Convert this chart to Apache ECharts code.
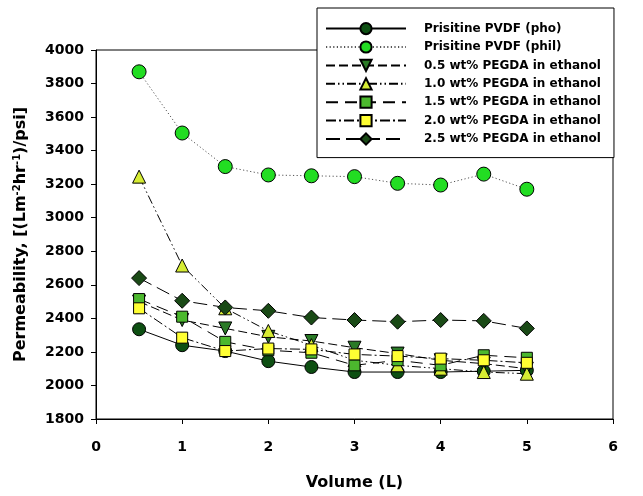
<!DOCTYPE html>
<html>
<head>
<meta charset="utf-8">
<script src="https://cdn.jsdelivr.net/npm/echarts@6/dist/echarts.min.js"></script>
<style>html,body{margin:0;padding:0;background:#fff}#c{width:643px;height:496px}</style>
</head>
<body>
<div id="c"></div>
<script>
const volume = [0.5, 1, 1.5, 2, 2.5, 3, 3.5, 4, 4.5, 5];
const seriesNames = ['Prisitine PVDF (pho)', 'Prisitine PVDF (phil)', '0.5 wt% PEGDA in ethanol', '1.0 wt% PEGDA in ethanol', '1.5 wt% PEGDA in ethanol', '2.0 wt% PEGDA in ethanol', '2.5 wt% PEGDA in ethanol'];
const pvdfPho  = [2335, 2240, 2205, 2145, 2110, 2080, 2080, 2080, 2085, 2090];
const pvdfPhil = [3870, 3505, 3305, 3255, 3250, 3245, 3205, 3195, 3260, 3170];
const pegda05  = [2500, 2390, 2340, 2290, 2265, 2225, 2190, 2150, 2130, 2100];
const pegda10  = [3245, 2715, 2460, 2325, 2240, 2150, 2120, 2100, 2080, 2070];
const pegda15  = [2515, 2410, 2260, 2210, 2195, 2120, 2150, 2120, 2180, 2165];
const pegda20  = [2460, 2285, 2205, 2220, 2215, 2185, 2175, 2160, 2150, 2135];
const pegda25  = [2640, 2505, 2465, 2445, 2405, 2390, 2380, 2390, 2385, 2340];
const yTicks = [1800, 4000, 200];
const xTicks = [0, 6, 1];

const FONT = 'DejaVu Sans';
function pairs(v) { return volume.map((x, i) => [x, v[i]]); }
const styles = [
  {data: pvdfPho,  symbol: 'circle',   size: 13, color: '#0d4f12', line: 'solid'},
  {data: pvdfPhil, symbol: 'circle',   size: 14, color: '#22dd22', line: [1.2, 2.4], lineColor: '#555'},
  {data: pegda05,  symbol: 'path://M0,0 L10,0 L5,9 Z', size: 13, color: '#2a7a26', line: [9, 4]},
  {data: pegda10,  symbol: 'triangle', size: 13, color: '#d6ec33', line: [9, 3, 1.5, 3, 1.5, 3]},
  {data: pegda15,  symbol: 'rect',     size: 11, color: '#4cb82e', line: [12, 7]},
  {data: pegda20,  symbol: 'rect',     size: 11, color: '#ffff33', line: [10, 3, 2, 3]},
  {data: pegda25,  symbol: 'diamond',  size: 15, color: '#1a4a16', line: [14, 6]}
];
const series = styles.map((s, i) => ({
  name: seriesNames[i],
  type: 'line',
  data: pairs(s.data),
  symbol: s.symbol,
  symbolSize: s.size,
  showAllSymbol: true,
  itemStyle: {color: s.color, borderColor: '#000', borderWidth: 1},
  lineStyle: {color: s.lineColor || '#000', width: 1, type: s.line},
  emphasis: {disabled: true},
  animation: false
}));

const chart = echarts.init(document.getElementById('c'), null, {renderer: 'canvas'});
chart.setOption({
  animation: false,
  backgroundColor: '#fff',
  grid: {left: 96, right: 30, top: 50, bottom: 74, show: true, borderColor: '#000', borderWidth: 1, backgroundColor: 'transparent'},
  legend: {
    orient: 'vertical', left: 317, top: 8,
    padding: [14, 13, 12, 8],
    itemWidth: 80, itemHeight: 14, itemGap: 5.2,
    backgroundColor: '#fff', borderColor: '#000', borderWidth: 1,
    textStyle: {fontFamily: FONT, fontWeight: 'bold', fontSize: 12, color: '#000', padding: [0, 0, 0, 13]},
    data: seriesNames
  },
  xAxis: {
    type: 'value', min: xTicks[0], max: xTicks[1], interval: xTicks[2],
    name: 'Volume (L)', nameLocation: 'middle', nameGap: 56,
    nameTextStyle: {fontFamily: FONT, fontWeight: 'bold', fontSize: 16, color: '#000'},
    axisLine: {lineStyle: {color: '#000', width: 1}},
    axisTick: {inside: false, length: 5, lineStyle: {color: '#000'}},
    axisLabel: {fontFamily: FONT, fontWeight: 'bold', fontSize: 14, color: '#000', margin: 21},
    splitLine: {show: false}
  },
  yAxis: {
    type: 'value', min: yTicks[0], max: yTicks[1], interval: yTicks[2],
    name: '{b|Permeability, [(Lm}{s|-2}{b|hr}{s|-1}{b|)/psi]}', nameLocation: 'middle', nameGap: 66,
    nameTextStyle: {rich: {
      b: {fontFamily: FONT, fontWeight: 'bold', fontSize: 16, color: '#000'},
      s: {fontFamily: FONT, fontWeight: 'bold', fontSize: 10, color: '#000', verticalAlign: 'top', padding: [0, 0, 8, 0]}
    }},
    axisLine: {show: true, lineStyle: {color: '#000', width: 1}},
    axisTick: {show: true, inside: false, length: 5, lineStyle: {color: '#000'}},
    axisLabel: {fontFamily: FONT, fontWeight: 'bold', fontSize: 14, color: '#000', margin: 12, formatter: v => String(v)},
    splitLine: {show: false}
  },
  series: series
});
</script>
</body>
</html>
